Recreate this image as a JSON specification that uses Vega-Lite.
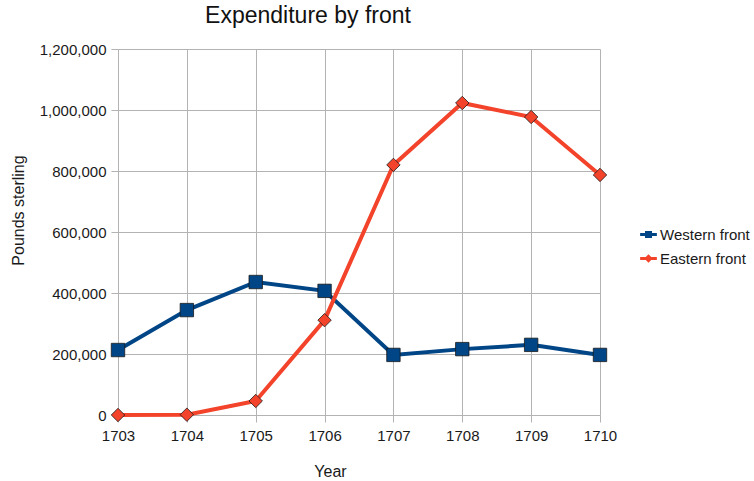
{
  "$schema": "https://vega.github.io/schema/vega-lite/v6.json",
  "width": 482,
  "height": 366,
  "autosize": "none",
  "padding": {"left": 118, "top": 49, "right": 154, "bottom": 66},
  "background": "white",
  "config": {
    "font": "Liberation Sans",
    "view": {"stroke": null},
    "axis": {
      "labelFont": "Liberation Sans",
      "titleFont": "Liberation Sans",
      "labelFontSize": 15,
      "titleFontSize": 16,
      "titleFontWeight": "normal",
      "labelColor": "#1a1a1a",
      "titleColor": "#1a1a1a",
      "gridColor": "#b3b3b3",
      "gridWidth": 1,
      "tickColor": "#b3b3b3",
      "tickSize": 7,
      "domain": false
    }
  },
  "title": {
    "text": "Expenditure by front",
    "fontSize": 23,
    "fontWeight": "normal",
    "font": "Liberation Sans",
    "color": "#111",
    "anchor": "middle",
    "dx": -51,
    "offset": 14
  },
  "data": {
    "values": [
      {"year": 1703, "front": "Western front", "value": 213000},
      {"year": 1704, "front": "Western front", "value": 344000},
      {"year": 1705, "front": "Western front", "value": 436000},
      {"year": 1706, "front": "Western front", "value": 407000},
      {"year": 1707, "front": "Western front", "value": 197000},
      {"year": 1708, "front": "Western front", "value": 216000},
      {"year": 1709, "front": "Western front", "value": 230000},
      {"year": 1710, "front": "Western front", "value": 197000},
      {"year": 1703, "front": "Eastern front", "value": 0},
      {"year": 1704, "front": "Eastern front", "value": 1000},
      {"year": 1705, "front": "Eastern front", "value": 46000},
      {"year": 1706, "front": "Eastern front", "value": 311000},
      {"year": 1707, "front": "Eastern front", "value": 820000},
      {"year": 1708, "front": "Eastern front", "value": 1023000},
      {"year": 1709, "front": "Eastern front", "value": 977000},
      {"year": 1710, "front": "Eastern front", "value": 787000}
    ]
  },
  "encoding": {
    "x": {
      "field": "year",
      "type": "quantitative",
      "scale": {"domain": [1703, 1710], "nice": false, "zero": false},
      "axis": {
        "title": "Year",
        "format": "d",
        "values": [1703, 1704, 1705, 1706, 1707, 1708, 1709, 1710],
        "labelFlush": false,
        "labelPadding": 6,
        "titlePadding": 20,
        "titleX": 212
      }
    },
    "y": {
      "field": "value",
      "type": "quantitative",
      "scale": {"domain": [0, 1200000], "nice": false},
      "axis": {
        "title": "Pounds sterling",
        "format": ",d",
        "values": [0, 200000, 400000, 600000, 800000, 1000000, 1200000],
        "labelFlush": false,
        "labelPadding": 5,
        "titleX": -100,
        "titleY": 161,
        "titleBaseline": "middle"
      }
    },
    "color": {
      "field": "front",
      "type": "nominal",
      "scale": {"domain": ["Western front", "Eastern front"], "range": ["#004586", "#f3432a"]},
      "legend": {
        "title": null,
        "orient": "none",
        "legendX": 522,
        "legendY": 177,
        "labelFontSize": 15,
        "labelFont": "Liberation Sans",
        "labelColor": "#1a1a1a",
        "labelOffset": 3,
        "rowPadding": 7,
        "symbolSize": 280,
        "symbolStrokeWidth": 0,
        "encode": {
          "symbols": {
            "update": {
              "shape": {"signal": "datum.value === 'Western front' ? 'M-1,-0.17H1V0.17H-1Z M-0.42,-0.42H0.42V0.42H-0.42Z' : 'M-1,-0.17H1V0.17H-1Z M0,-0.5L0.5,0L0,0.5L-0.5,0Z'"},
              "strokeWidth": {"value": 0}
            }
          }
        }
      }
    }
  },
  "layer": [
    {
      "mark": {"type": "line", "strokeWidth": 4}
    },
    {
      "transform": [{"filter": "datum.front === 'Western front'"}],
      "mark": {"type": "point", "shape": "square", "filled": true, "opacity": 1, "size": 180, "stroke": "#1a1a1a", "strokeWidth": 0.8}
    },
    {
      "transform": [{"filter": "datum.front === 'Eastern front'"}],
      "mark": {"type": "point", "shape": "diamond", "filled": true, "opacity": 1, "size": 180, "stroke": "#1a1a1a", "strokeWidth": 0.8}
    }
  ]
}
